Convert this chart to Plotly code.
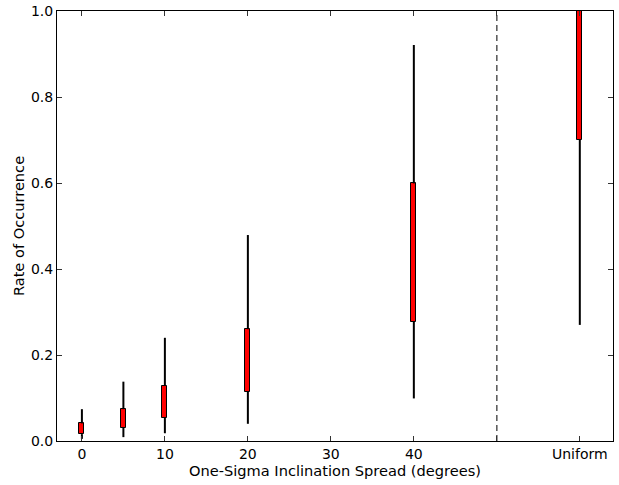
import plotly.graph_objects as go

# Data
positions = [0, 5, 10, 20, 40, 60]
whisker_lo = [0.005, 0.009, 0.018, 0.040, 0.099, 0.27]
box_lo = [0.016, 0.031, 0.054, 0.115, 0.277, 0.70]
box_hi = [0.041, 0.074, 0.128, 0.260, 0.599, 1.00]
whisker_hi = [0.074, 0.138, 0.240, 0.479, 0.921, 1.00]

x_tick_vals = [0, 10, 20, 30, 40, 50, 60]
x_tick_text = ["0", "10", "20", "30", "40", "", "Uniform"]
y_tick_vals = [0.0, 0.2, 0.4, 0.6, 0.8, 1.0]
y_tick_text = ["0.0", "0.2", "0.4", "0.6", "0.8", "1.0"]
divider_x = 50

FONT = "DejaVu Sans"
FS = 14
TFS = 14.6

# whisker segments (below and above each box)
wx, wy = [], []
for p, wl, bl, bh, wh in zip(positions, whisker_lo, box_lo, box_hi, whisker_hi):
    wx += [p, p, None, p, p, None]
    wy += [wl, bl, None, bh, wh, None]

fig = go.Figure()
fig.add_trace(go.Scatter(
    x=wx, y=wy, mode="lines",
    line=dict(color="black", width=2),
    showlegend=False, hoverinfo="skip", cliponaxis=True,
))
fig.add_trace(go.Bar(
    x=positions,
    y=[h - l for h, l in zip(box_hi, box_lo)],
    base=box_lo,
    width=0.6,
    marker=dict(color="#ff0000", line=dict(color="black", width=1)),
    showlegend=False,
))
fig.add_trace(go.Scatter(
    x=[divider_x, divider_x], y=[0, 1], mode="lines",
    line=dict(color="#555555", width=1.5, dash="6px,4px"),
    showlegend=False, hoverinfo="skip",
))

axis_common = dict(
    showline=True, linecolor="black", linewidth=1, mirror="ticks",
    ticks="inside", ticklen=5, tickwidth=1, tickcolor="#333333",
    showgrid=False, zeroline=False, automargin=False,
    tickfont=dict(family=FONT, size=FS, color="black"),
)

fig.update_layout(
    width=619, height=485,
    margin=dict(l=57, r=6, t=11, b=44),
    paper_bgcolor="white", plot_bgcolor="white",
    bargap=0,
    font=dict(family=FONT, size=FS, color="black"),
    xaxis=dict(
        range=[-3, 64],
        tickmode="array", tickvals=x_tick_vals, ticktext=x_tick_text,
        title=dict(text="One-Sigma Inclination Spread (degrees)",
                   font=dict(family=FONT, size=TFS), standoff=0),
        **axis_common,
    ),
    yaxis=dict(
        range=[0, 1],
        tickmode="array", tickvals=y_tick_vals, ticktext=y_tick_text,
        title=dict(text="Rate of Occurrence",
                   font=dict(family=FONT, size=TFS), standoff=2),
        **axis_common,
    ),
)

fig.write_html("out.html", config={"displayModeBar": False},
               post_script="document.body.style.margin='0';")
